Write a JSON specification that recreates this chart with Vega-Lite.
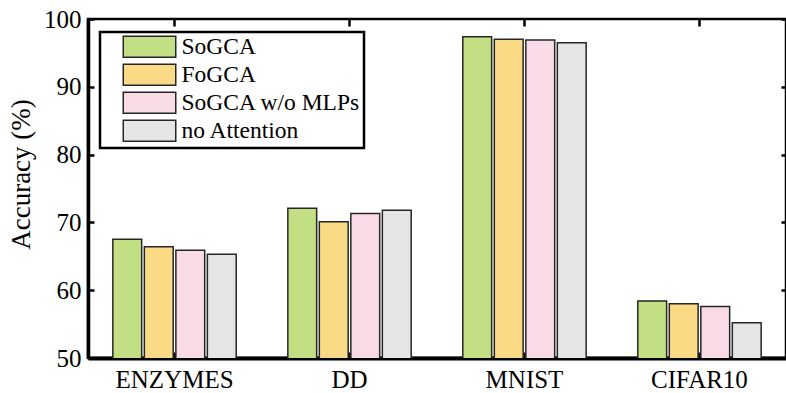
{
  "$schema": "https://vega.github.io/schema/vega-lite/v6.json",
  "width": 698,
  "height": 339,
  "autosize": {"type": "none"},
  "padding": {"left": 88, "top": 19, "right": 0, "bottom": 35},
  "config": {
    "font": "Liberation Serif",
    "view": {"stroke": "black", "strokeWidth": 2.5},
    "axis": {
      "labelFont": "Liberation Serif",
      "labelFontSize": 25,
      "labelColor": "black",
      "titleFont": "Liberation Serif",
      "titleFontSize": 27,
      "titleFontWeight": "normal",
      "titleColor": "black",
      "domain": false,
      "grid": false,
      "tickColor": "black",
      "tickWidth": 2.5,
      "tickSize": -6
    },
    "legend": {
      "orient": "none",
      "legendX": 12,
      "legendY": 13,
      "symbolType": "M0.81,-1H5.81V1H0.81Z",
      "symbolSize": 441,
      "symbolStrokeColor": "#262626",
      "symbolStrokeWidth": 1.5,
      "symbolOpacity": 1,
      "labelFont": "Liberation Serif",
      "labelFontSize": 23.5,
      "labelColor": "black",
      "labelOffset": 55,
      "labelLimit": 400,
      "padding": 3,
      "rowPadding": 0,
      "strokeColor": "black",
      "strokeWidth": 2.5,
      "fillColor": "white"
    }
  },
  "data": {
    "values": [
      {"dataset": "ENZYMES", "method": "SoGCA", "acc": 67.5},
      {"dataset": "ENZYMES", "method": "FoGCA", "acc": 66.4},
      {"dataset": "ENZYMES", "method": "SoGCA w/o MLPs", "acc": 65.9},
      {"dataset": "ENZYMES", "method": "no Attention", "acc": 65.3},
      {"dataset": "DD", "method": "SoGCA", "acc": 72.1},
      {"dataset": "DD", "method": "FoGCA", "acc": 70.1},
      {"dataset": "DD", "method": "SoGCA w/o MLPs", "acc": 71.3},
      {"dataset": "DD", "method": "no Attention", "acc": 71.8},
      {"dataset": "MNIST", "method": "SoGCA", "acc": 97.4},
      {"dataset": "MNIST", "method": "FoGCA", "acc": 97.0},
      {"dataset": "MNIST", "method": "SoGCA w/o MLPs", "acc": 96.9},
      {"dataset": "MNIST", "method": "no Attention", "acc": 96.5},
      {"dataset": "CIFAR10", "method": "SoGCA", "acc": 58.4},
      {"dataset": "CIFAR10", "method": "FoGCA", "acc": 58.0},
      {"dataset": "CIFAR10", "method": "SoGCA w/o MLPs", "acc": 57.6},
      {"dataset": "CIFAR10", "method": "no Attention", "acc": 55.2}
    ]
  },
  "layer": [
    {
      "mark": {"type": "bar", "stroke": "#262626", "strokeWidth": 1.5, "clip": true},
      "encoding": {
        "x": {
          "field": "dataset", "type": "nominal",
          "sort": ["ENZYMES", "DD", "MNIST", "CIFAR10"],
          "scale": {"paddingInner": 0.295, "paddingOuter": 0.142},
          "axis": {"orient": "bottom", "title": null, "labelAngle": 0, "labelPadding": 15, "domain": true, "domainColor": "black", "domainWidth": 4}
        },
        "y": {
          "field": "acc", "type": "quantitative",
          "scale": {"domain": [50, 100], "nice": false, "zero": false},
          "axis": {"orient": "left", "title": "Accuracy (%)", "values": [50, 60, 70, 80, 90, 100], "labelPadding": 13, "titlePadding": 8, "titleY": 155, "domain": true, "domainColor": "black", "domainWidth": 3.5}
        },
        "xOffset": {
          "field": "method", "type": "nominal",
          "sort": ["SoGCA", "FoGCA", "SoGCA w/o MLPs", "no Attention"],
          "scale": {"paddingInner": 0.085, "paddingOuter": 0}
        },
        "color": {
          "field": "method", "type": "nominal",
          "sort": ["SoGCA", "FoGCA", "SoGCA w/o MLPs", "no Attention"],
          "scale": {"domain": ["SoGCA", "FoGCA", "SoGCA w/o MLPs", "no Attention"], "range": ["#C2DF84", "#FADA84", "#F8DBE6", "#E5E5E5"]},
          "legend": {"title": null}
        }
      }
    },
    {
      "mark": {"type": "bar", "opacity": 0, "clip": true},
      "encoding": {
        "x": {
          "field": "dataset", "type": "nominal",
          "sort": ["ENZYMES", "DD", "MNIST", "CIFAR10"],
          "axis": {"orient": "top", "title": null, "labels": false, "tickSize": -7}
        },
        "y": {
          "field": "acc", "type": "quantitative",
          "axis": {"orient": "right", "title": null, "labels": false, "values": [50, 60, 70, 80, 90, 100], "tickSize": -5}
        },
        "xOffset": {
          "field": "method", "type": "nominal",
          "sort": ["SoGCA", "FoGCA", "SoGCA w/o MLPs", "no Attention"]
        }
      }
    }
  ],
  "resolve": {"axis": {"x": "independent", "y": "independent"}}
}
